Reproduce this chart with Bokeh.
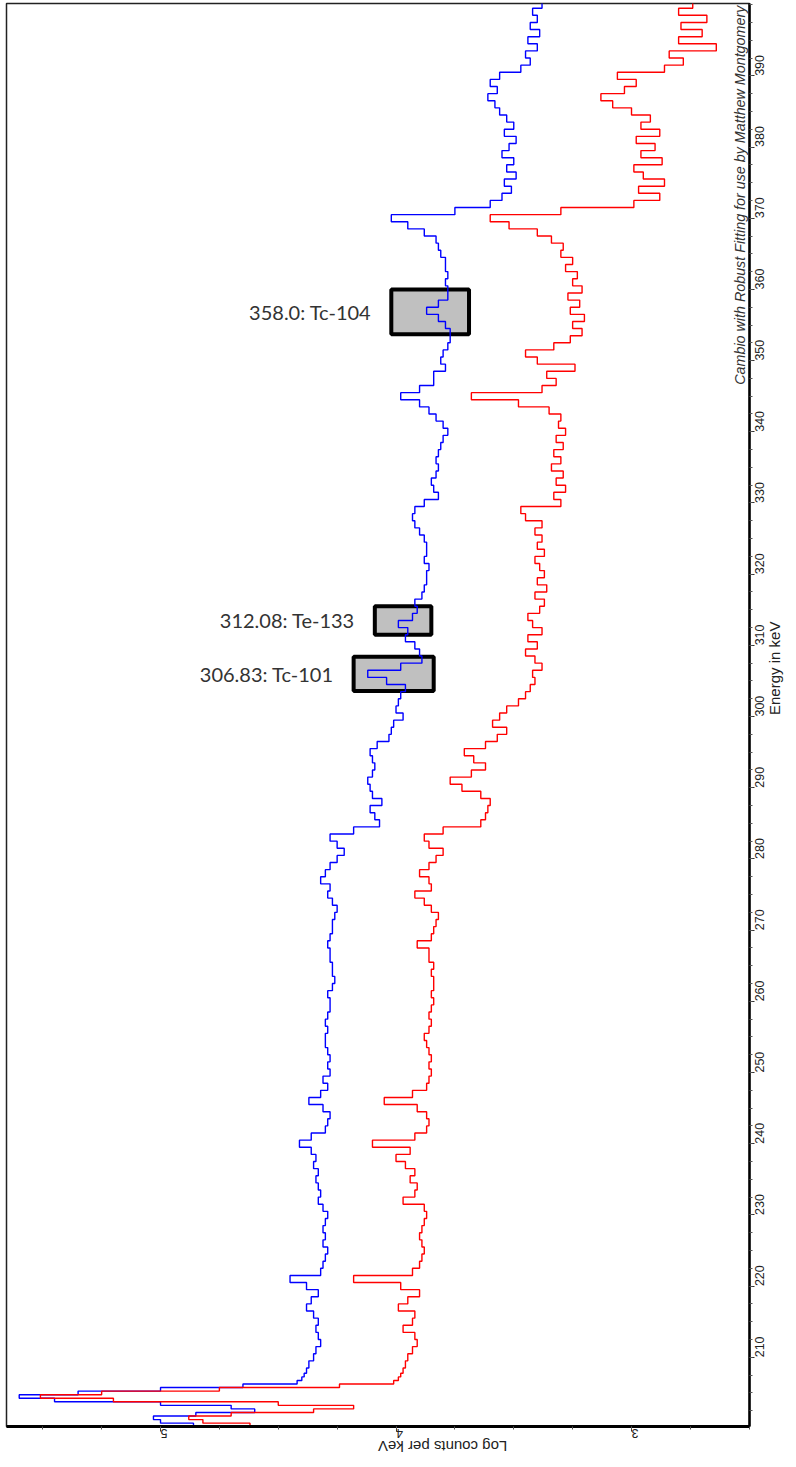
import math
import numpy as np
from bokeh.plotting import figure
from bokeh.models import Range1d, LinearAxis, FixedTicker, Label
from bokeh.core.properties import value
from bokeh.embed import file_html
from bokeh.resources import INLINE

# ---------------- data ----------------
# channel energies (keV): 0.5 keV steps over the 200-208 keV peaks, then 1 keV steps
energy_kev = [200.0, 200.5, 201.0, 201.5, 202.0, 202.5, 203.0, 203.5, 204.0,
              204.5, 205.0, 205.5, 206.0, 206.5, 207.0, 207.5, 208.0] + list(range(209, 401))

blue_counts = [
    4.75, 4.86, 5.00, 5.03, 4.85, 4.60, 4.70, 5.00, 5.45, 5.60, 5.35, 5.00, 4.65, 4.42, 4.40, 4.39, 4.38,
    4.37,
    4.35, 4.34, 4.32, 4.33, 4.34, 4.33, 4.35, 4.38, 4.36, 4.33,
    4.38, 4.45, 4.32, 4.31, 4.30, 4.29, 4.31, 4.30, 4.31, 4.30,
    4.29, 4.31, 4.33, 4.32, 4.33, 4.34, 4.33, 4.35, 4.34, 4.36,
    4.41, 4.36, 4.30, 4.29, 4.28, 4.31, 4.37, 4.32, 4.29, 4.31,
    4.28, 4.29, 4.28, 4.29, 4.30, 4.30, 4.29, 4.30, 4.29, 4.28,
    4.28, 4.29, 4.27, 4.26, 4.27, 4.27, 4.28, 4.28, 4.29, 4.28,
    4.27, 4.27, 4.26, 4.25, 4.27, 4.29, 4.28, 4.32, 4.30, 4.28,
    4.25, 4.22, 4.25, 4.28, 4.18, 4.07, 4.09, 4.11, 4.06, 4.10,
    4.11, 4.12, 4.10, 4.09, 4.10, 4.11, 4.08, 4.03, 4.02, 4.01,
    3.97, 4.00, 3.99, 3.98, 3.96, 4.04, 4.12, 3.98, 3.89, 3.90,
    3.92, 3.96, 3.95, 3.99, 3.93, 3.91, 3.92, 3.89, 3.88, 3.87,
    3.87, 3.86, 3.88, 3.87, 3.87, 3.88, 3.90, 3.92, 3.93, 3.92,
    3.88, 3.82, 3.84, 3.85, 3.83, 3.82, 3.83, 3.82, 3.81, 3.80,
    3.78, 3.80, 3.83, 3.86, 3.90, 3.98, 3.90, 3.84, 3.84, 3.79,
    3.81, 3.80, 3.78, 3.77, 3.77, 3.79, 3.82, 3.87, 3.82, 3.78,
    3.78, 3.79, 3.78, 3.79, 3.79, 3.81, 3.82, 3.83, 3.88, 3.95,
    4.02, 3.75, 3.60, 3.55, 3.51, 3.54, 3.49, 3.53, 3.50, 3.55,
    3.52, 3.49, 3.54, 3.50, 3.53, 3.56, 3.58, 3.61, 3.57, 3.60,
    3.56, 3.47, 3.43, 3.45, 3.40, 3.44, 3.39, 3.43, 3.40, 3.42,
    3.38,
]

red_counts = [
    4.40, 4.62, 4.82, 4.88, 4.70, 4.35, 4.18, 4.50, 5.20, 5.51, 5.25, 4.75, 4.24, 4.01, 3.99, 3.98, 3.97,
    3.96,
    3.95, 3.93, 3.91, 3.92, 3.97, 3.93, 3.92, 3.99, 3.95, 3.90,
    3.98, 4.18, 3.93, 3.90, 3.89, 3.88, 3.89, 3.90, 3.89, 3.88,
    3.87, 3.88, 3.97, 3.92, 3.91, 3.94, 3.92, 3.96, 4.00, 3.94,
    4.10, 3.92, 3.87, 3.86, 3.87, 3.91, 4.05, 3.93, 3.87, 3.86,
    3.85, 3.86, 3.85, 3.86, 3.87, 3.88, 3.86, 3.85, 3.86, 3.85,
    3.84, 3.85, 3.84, 3.84, 3.85, 3.84, 3.86, 3.86, 3.91, 3.85,
    3.84, 3.83, 3.82, 3.85, 3.88, 3.92, 3.85, 3.86, 3.90, 3.86,
    3.83, 3.80, 3.86, 3.88, 3.80, 3.64, 3.62, 3.61, 3.60, 3.64,
    3.72, 3.77, 3.68, 3.62, 3.67, 3.71, 3.62, 3.57, 3.53, 3.59,
    3.56, 3.53, 3.48, 3.45, 3.43, 3.41, 3.42, 3.38, 3.41, 3.45,
    3.40, 3.44, 3.38, 3.42, 3.44, 3.39, 3.37, 3.41, 3.36, 3.40,
    3.37, 3.39, 3.41, 3.37, 3.40, 3.38, 3.41, 3.38, 3.45, 3.47,
    3.30, 3.33, 3.28, 3.32, 3.29, 3.34, 3.30, 3.33, 3.29, 3.32,
    3.28, 3.31, 3.30, 3.35, 3.48, 3.68, 3.38, 3.32, 3.36, 3.24,
    3.40, 3.45, 3.33, 3.26, 3.21, 3.25, 3.20, 3.26, 3.22, 3.27,
    3.21, 3.25, 3.23, 3.28, 3.25, 3.30, 3.29, 3.34, 3.40, 3.52,
    3.60, 3.30, 2.99, 2.88, 2.97, 2.86, 2.95, 2.99, 2.87, 2.96,
    2.90, 2.98, 2.88, 2.96, 2.92, 3.00, 3.08, 3.13, 3.03, 2.98,
    3.06, 2.86, 2.78, 2.84, 2.64, 2.80, 2.70, 2.79, 2.68, 2.80,
    2.74,
]

peak_labels = ["358.0: Tc-104", "312.08: Te-133", "306.83: Tc-101"]
box_counts_hi = [4.02, 4.09, 4.18]
box_counts_lo = [3.69, 3.85, 3.84]
box_energy_lo = [353.7, 311.5, 303.6]
box_energy_hi = [360.0, 315.5, 308.4]

count_ticks = [3, 4, 5]
energy_ticks = [210, 220, 230, 240, 250, 260, 270, 280, 290, 300,
                310, 320, 330, 340, 350, 360, 370, 380, 390]

assert len(blue_counts) == len(energy_kev) == len(red_counts)

# ---------------- step paths (channel histogram drawn along energy) ----------------
E = np.asarray(energy_kev, dtype=float)
edges = np.concatenate([[E[0] - (E[1] - E[0]) / 2], (E[:-1] + E[1:]) / 2,
                        [E[-1] + (E[-1] - E[-2]) / 2]])
step_y = np.column_stack([edges[:-1], edges[1:]]).ravel()
blue_x = np.repeat(np.asarray(blue_counts, dtype=float), 2)
red_x = np.repeat(np.asarray(red_counts, dtype=float), 2)

# ---------------- figure ----------------
p = figure(width=795, height=1466,
           x_range=Range1d(5.654, 2.499), y_range=Range1d(200.28, 400.16),
           output_backend="svg", toolbar_location=None,
           x_axis_location=None, y_axis_location=None,
           min_border_left=6, min_border_top=3, min_border_right=46, min_border_bottom=40,
           background_fill_color="white", border_fill_color="white")
p.outline_line_color = "#222222"
p.outline_line_width = 1.5
p.grid.grid_line_color = None

minor_counts = [2.5 + 0.25 * i for i in range(13)]
minor_energy = [200 + 2.5 * i for i in range(81)]

xaxis = LinearAxis(ticker=FixedTicker(ticks=count_ticks, minor_ticks=minor_counts))
yaxis = LinearAxis(ticker=FixedTicker(ticks=energy_ticks, minor_ticks=minor_energy))
p.add_layout(xaxis, "below")
p.add_layout(yaxis, "right")

for ax in (xaxis, yaxis):
    ax.axis_line_color = "black"
    ax.major_tick_line_color = "#333333"
    ax.minor_tick_line_color = "#555555"
    ax.major_tick_out = 5
    ax.major_tick_in = 0
    ax.minor_tick_out = 3
    ax.minor_tick_in = 0
    ax.major_label_text_font = "Liberation Sans"
    ax.major_label_text_font_size = "12.5px"
    ax.major_label_text_color = "#222222"
    ax.axis_label_text_font = "Liberation Sans"
    ax.axis_label_text_font_size = "15px"
    ax.axis_label_text_font_style = "normal"
    ax.axis_label_text_color = "#222222"

xaxis.major_label_standoff = 2
xaxis.axis_label_standoff = 1
yaxis.major_label_standoff = 5
yaxis.axis_label_standoff = 3

xaxis.axis_line_width = 3
yaxis.axis_line_width = 2.5
xaxis.axis_label = "Log counts per keV"
yaxis.axis_label = "Energy in keV"
xaxis.major_label_orientation = math.pi
yaxis.major_label_orientation = math.pi / 2
try:
    xaxis.axis_label_orientation = math.pi
    yaxis.axis_label_orientation = math.pi / 2
except AttributeError:
    pass

# annotation boxes (drawn beneath the spectra)
p.quad(left=box_counts_hi, right=box_counts_lo, bottom=box_energy_lo, top=box_energy_hi,
       fill_color="#c0c0c0", line_color="black", line_width=4)

box_mid = [(a + b) / 2 for a, b in zip(box_energy_lo, box_energy_hi)]
p.text(x=box_counts_hi, y=box_mid, text=peak_labels, x_offset=-20,
       text_align="right", text_baseline="middle",
       text_font=value("Lato"), text_font_size="20px", text_color="#333333")

# spectra
p.line(blue_x, step_y, line_color="#0000ff", line_width=1.4)
p.line(red_x, step_y, line_color="#ff0000", line_width=1.4)

# subtitle along the right edge
p.add_layout(Label(x=2.507, y=399.85, text="Cambio with Robust Fitting for use by Matthew Montgomery",
                   angle=math.pi / 2, text_align="right", text_baseline="bottom",
                   text_font="Liberation Sans", text_font_style="italic",
                   text_font_size="14.3px", text_color="#333333"))

open("out.html", "w").write(file_html(p, INLINE))
